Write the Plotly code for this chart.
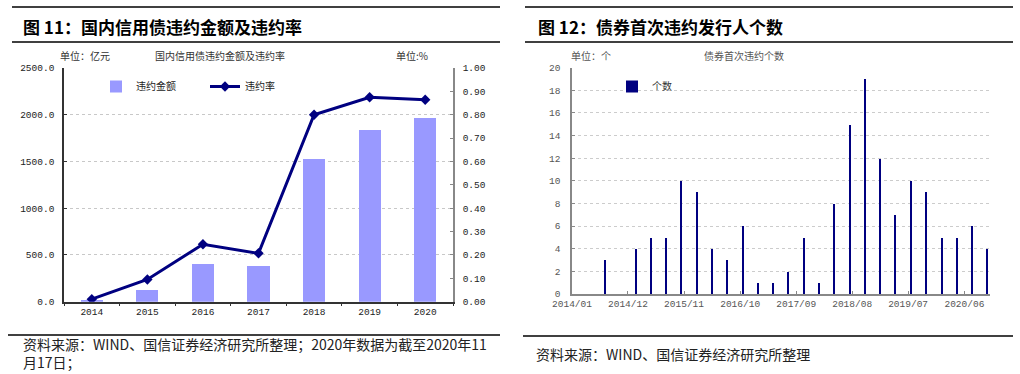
import plotly.graph_objects as go

# ---------------- data ----------------
years = ["2014", "2015", "2016", "2017", "2018", "2019", "2020"]
default_amount = [12, 124, 400, 380, 1527, 1840, 1965]          # 亿元
default_rate = [0.011, 0.095, 0.246, 0.207, 0.800, 0.875, 0.864]  # %

quarters = ["2014-07", "2014-10", "2015-01", "2015-04", "2015-07", "2015-10",
            "2016-01", "2016-04", "2016-07", "2016-10", "2017-01", "2017-04",
            "2017-07", "2017-10", "2018-01", "2018-04", "2018-07", "2018-10",
            "2019-01", "2019-04", "2019-07", "2019-10", "2020-01", "2020-04",
            "2020-07", "2020-10"]
first_default_count = [3, 0, 4, 5, 5, 10, 9, 4, 3, 6, 1, 1, 2, 5, 1, 8, 15, 19,
                       12, 7, 10, 9, 5, 5, 6, 4]
date_ticks = ["2014-01-01", "2014-12-01", "2015-11-01", "2016-10-01",
              "2017-09-01", "2018-08-01", "2019-07-01", "2020-06-01"]

W, H = 1020, 374
def px(x):
    return x / W
def py(y):
    return 1 - y / H

CJK = "Noto Sans CJK SC"
MONO = "Liberation Mono"

fig = go.Figure()

# left chart
fig.add_trace(go.Bar(x=years, y=default_amount, name="违约金额",
                     marker=dict(color="#9999FF", line=dict(width=0)),
                     width=0.4, xaxis="x", yaxis="y", legend="legend"))
fig.add_trace(go.Scatter(x=years, y=default_rate, name="违约率", mode="lines+markers",
                         line=dict(color="#000080", width=3),
                         marker=dict(symbol="diamond", size=8, color="#000080"),
                         xaxis="x", yaxis="y2", legend="legend"))

# right chart
fig.add_trace(go.Bar(x=quarters, y=first_default_count, name="个数",
                     xperiod="M1", xperiodalignment="middle",
                     width=12 * 86400000,
                     marker=dict(color="#000080", line=dict(width=0)),
                     xaxis="x3", yaxis="y3", legend="legend2"))

tickfont_l = dict(family=MONO, size=9.5, color="#222222")
tickfont_r = dict(family=MONO, size=9.5, color="#555555")

fig.update_layout(
    width=W, height=H,
    margin=dict(l=0, r=0, t=0, b=0, autoexpand=False),
    paper_bgcolor="white", plot_bgcolor="white",
    bargap=0,
    xaxis=dict(domain=[px(64), px(453)], type="category", range=[-0.5, 6.5],
               showline=True, linecolor="#333333", linewidth=1.5,
               ticks="outside", ticklen=3, tickcolor="#333333", tickson="boundaries",
               showgrid=False, tickfont=tickfont_l, anchor="y", automargin=False),
    yaxis=dict(domain=[py(301.7), py(68)], range=[0, 2500], dtick=500,
               tickformat=".1f", showline=True, linecolor="#333333", linewidth=1.5,
               ticks="inside", ticklen=3, tickcolor="#333333",
               showgrid=True, gridcolor="#c8c8c8", griddash="dot", gridwidth=1,
               zeroline=False, tickfont=tickfont_l, anchor="x", ticklabelstandoff=6,
               automargin=False),
    yaxis2=dict(overlaying="y", side="right", range=[0, 1], dtick=0.1,
                tickformat=".2f", showline=True, linecolor="#888888", linewidth=1.5,
                ticks="inside", ticklen=3, tickcolor="#888888", showgrid=False,
                zeroline=False, tickfont=tickfont_l, anchor="x", ticklabelstandoff=6,
                automargin=False),
    xaxis3=dict(domain=[px(572), px(990)], type="date",
                range=["2014-01-01", "2020-11-01"],
                tickvals=date_ticks, tickformat="%Y/%m",
                showline=True, linecolor="#888888", linewidth=1.5,
                ticks="inside", ticklen=3, tickcolor="#888888",
                showgrid=False, tickfont=tickfont_r, anchor="y3", automargin=False),
    yaxis3=dict(domain=[py(294), py(67.7)], range=[0, 20], dtick=2,
                showline=True, linecolor="#888888", linewidth=1.5,
                ticks="inside", ticklen=3, tickcolor="#888888",
                showgrid=True, gridcolor="#cccccc", griddash="dot", gridwidth=1,
                zeroline=False, tickfont=tickfont_r, anchor="x3", ticklabelstandoff=8,
                automargin=False),
    legend=dict(orientation="h", x=px(96), y=py(72), xanchor="left", yanchor="top",
                bgcolor="rgba(0,0,0,0)", font=dict(family=CJK, size=10, color="#222222"),
                entrywidth=64, entrywidthmode="pixels", itemwidth=30,
                traceorder="normal"),
    legend2=dict(orientation="h", x=px(612), y=py(72), xanchor="left", yanchor="top",
                 bgcolor="rgba(0,0,0,0)", font=dict(family=CJK, size=10, color="#333333"),
                 itemwidth=30),
)

shapes = []
for (x0, x1) in [(12, 500), (525, 1013)]:
    for y in (7, 42):
        shapes.append(dict(type="line", xref="paper", yref="paper",
                           x0=px(x0), x1=px(x1), y0=py(y), y1=py(y),
                           line=dict(color="black", width=1.5)))
shapes.append(dict(type="line", xref="paper", yref="paper", x0=px(8), x1=px(500),
                   y0=py(335), y1=py(335), line=dict(color="black", width=1.5)))
shapes.append(dict(type="line", xref="paper", yref="paper", x0=px(523), x1=px(1013),
                   y0=py(336), y1=py(336), line=dict(color="black", width=1.5)))
fig.update_layout(shapes=shapes)

ann = []
def text(x, y, s, size, color="black", xanchor="left", family=CJK):
    ann.append(dict(x=px(x), y=py(y), xref="paper", yref="paper", text=s,
                    showarrow=False, xanchor=xanchor, yanchor="middle", align="left",
                    font=dict(family=family, size=size, color=color)))

text(21, 26, "<b>图 11：国内信用债违约金额及违约率</b>", 17)
text(536, 26, "<b>图 12：债券首次违约发行人个数</b>", 17)
text(58, 55, "单位：亿元", 10, "#333333")
text(220, 55, "国内信用债违约金额及违约率", 10, "#333333", xanchor="center")
text(394, 55, "单位:%", 10, "#333333")
text(569, 55, "单位：个", 10, "#555555")
text(744, 55, "债券首次违约个数", 10, "#555555", xanchor="center")
text(21, 353, "资料来源：WIND、国信证券经济研究所整理；2020年数据为截至2020年11<br>月17日；",
     14, "#222222")
text(534, 354, "资料来源：WIND、国信证券经济研究所整理", 14, "#222222")
fig.update_layout(annotations=ann)

fig.write_html("out.html", config={"displayModeBar": False},
               post_script="document.body.style.margin='0';document.body.style.overflow='hidden';")
